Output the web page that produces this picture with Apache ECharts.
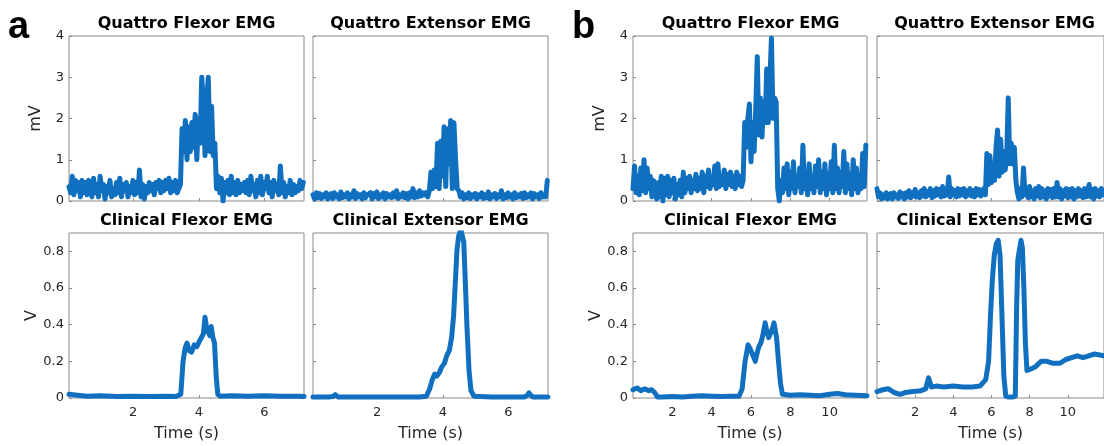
<!DOCTYPE html>
<html>
<head>
<meta charset="utf-8">
<script src="https://cdn.jsdelivr.net/npm/echarts@6/dist/echarts.min.js"></script>
<style>
  html, body { margin: 0; padding: 0; background: #fff; }
  #main { width: 1104px; height: 446px; }
</style>
</head>
<body>
<div id="main"></div>
<script>
// tick labels
var ticksA = [2, 4, 6];
var ticksB = [2, 4, 6, 8, 10];
var ticksMv = [0, 1, 2, 3, 4];
var ticksV = [0, 0.2, 0.4, 0.6, 0.8];

// (a) Quattro EMG, mV, sampled every 0.05 s from 0.04 s
var aQuattroFlexor = [
    0.35,0.2,0.6,0.15,0.5,0.25,0.45,0.1,0.5,0.2,
    0.45,0.15,0.5,0.3,0.1,0.55,0.2,0.4,0.1,0.6,
    0.25,0.4,0.05,0.35,0.2,0.5,0.1,0.3,0.15,0.45,
    0.2,0.55,0.1,0.4,0.25,0.45,0.1,0.35,0.2,0.5,
    0.15,0.45,0.2,0.75,0.1,0.4,0.05,0.35,0.2,0.45,
    0.25,0.4,0.15,0.45,0.3,0.5,0.2,0.45,0.25,0.5,
    0.3,0.55,0.2,0.45,0.25,0.5,0.2,0.3,0.4,1.75,
    1.2,1.95,1.0,1.8,1.2,1.9,1.3,2.1,1.0,2.0,
    1.4,3.0,2.4,1.1,2.4,3.0,1.2,2.3,1.1,1.4,
    0.3,0.6,0.2,0.55,0.0,0.45,0.2,0.5,0.15,0.6,
    0.2,0.45,0.15,0.5,0.2,0.4,0.25,0.45,0.2,0.5,
    0.15,0.6,0.25,0.4,0.1,0.5,0.2,0.6,0.15,0.45,
    0.3,0.6,0.2,0.45,0.1,0.5,0.25,0.4,0.15,0.85,
    0.2,0.45,0.1,0.35,0.2,0.5,0.15,0.4,0.2,0.35,
    0.25,0.5,0.3,0.45
];
var aQuattroExtensor = [
    0.15,0.05,0.2,0.08,0.18,0.06,0.15,0.1,0.2,0.05,
    0.12,0.18,0.06,0.2,0.1,0.15,0.05,0.22,0.08,0.15,
    0.1,0.2,0.05,0.15,0.1,0.25,0.06,0.18,0.1,0.15,
    0.05,0.2,0.08,0.15,0.12,0.2,0.05,0.18,0.1,0.22,
    0.06,0.15,0.1,0.2,0.05,0.18,0.1,0.15,0.08,0.2,
    0.1,0.25,0.06,0.15,0.1,0.2,0.08,0.18,0.05,0.2,
    0.1,0.3,0.08,0.2,0.1,0.25,0.12,0.2,0.15,0.2,
    0.1,0.25,0.7,0.3,0.75,0.35,1.4,0.3,1.45,0.6,
    1.8,0.35,1.75,0.9,1.95,0.3,1.9,1.0,0.3,0.25,
    0.1,0.2,0.05,0.15,0.08,0.2,0.06,0.15,0.1,0.18,
    0.05,0.15,0.1,0.2,0.06,0.15,0.08,0.22,0.05,0.15,
    0.1,0.18,0.06,0.15,0.1,0.25,0.05,0.15,0.08,0.2,
    0.1,0.15,0.05,0.2,0.08,0.15,0.1,0.18,0.06,0.2,
    0.08,0.15,0.1,0.2,0.05,0.18,0.1,0.15,0.06,0.2,
    0.1,0.15,0.1,0.5
];

// (a) Clinical EMG, V
var aClinFlexorT = [0.04,0.3,0.6,1.0,1.5,2.0,2.5,3.0,3.3,3.45,
    3.52,3.58,3.64,3.7,3.78,3.86,3.94,4.02,4.08,4.14,
    4.19,4.24,4.29,4.34,4.38,4.43,4.48,4.53,4.58,4.65,
    5.0,5.5,6.0,6.5,7.0,7.21];
var aClinFlexorV = [0.02,0.015,0.01,0.012,0.008,0.01,0.008,0.01,0.008,0.02,
    0.2,0.27,0.3,0.26,0.25,0.29,0.28,0.31,0.33,0.35,
    0.44,0.38,0.36,0.34,0.39,0.33,0.3,0.12,0.02,0.01,
    0.012,0.01,0.012,0.01,0.01,0.008];
var aClinExtensorT = [0.04,0.5,0.65,0.72,0.8,1.5,2.5,3.3,3.5,3.6,
    3.68,3.75,3.82,3.9,3.97,4.05,4.12,4.2,4.27,4.33,
    4.38,4.43,4.48,4.55,4.6,4.64,4.69,4.74,4.8,4.86,
    4.95,5.5,6.0,6.5,6.58,6.63,6.68,6.75,7.21];
var aClinExtensorV = [0.005,0.005,0.008,0.018,0.006,0.005,0.005,0.006,0.01,0.05,
    0.1,0.13,0.12,0.14,0.17,0.19,0.23,0.26,0.33,0.45,
    0.62,0.8,0.88,0.92,0.93,0.85,0.62,0.38,0.15,0.04,
    0.01,0.006,0.005,0.006,0.015,0.028,0.015,0.006,0.005];

// (b) Quattro EMG, mV, sampled every 0.08 s from 0 s
var bQuattroFlexor = [
    0.3,0.85,0.2,0.6,0.15,0.8,0.25,1.0,0.2,0.8,0.3,0.6,0.1,0.5,0.2,
    0.05,0.45,0.1,0.6,0.0,0.55,0.15,0.6,0.1,0.5,0.2,0.55,0.05,0.4,0.15,0.5,0.1,
    0.7,0.2,0.55,0.3,0.6,0.2,0.5,0.3,0.65,0.25,
    0.55,0.3,0.7,0.2,0.6,0.35,0.75,0.3,0.55,0.4,
    0.85,0.3,0.9,0.35,0.6,0.4,0.75,0.3,0.65,0.4,
    0.7,0.35,0.6,0.3,0.7,0.4,0.6,0.35,
    0.5,1.9,1.3,2.0,2.35,0.95,1.9,1.2,2.2,3.5,
    1.6,2.5,1.55,2.4,1.9,3.2,1.9,2.9,3.95,2.0,
    2.5,2.4,0.3,0.0,0.5,
    0.2,0.8,0.3,0.9,0.15,0.7,0.3,0.95,0.2,0.6,
    0.35,0.8,0.2,1.35,0.3,0.7,0.15,0.9,0.3,0.6,
    0.2,0.85,0.35,1.0,0.2,0.7,0.3,0.9,0.15,0.65,
    0.3,0.95,0.2,1.35,0.3,0.8,0.2,0.7,0.35,1.2,
    0.2,0.9,0.3,0.65,0.15,1.0,0.3,0.8,0.2,0.6,
    0.3,1.15,0.35,1.35
];
var bQuattroExtensor = [
    0.3,0.1,0.2,0.05,0.15,0.08,0.2,0.05,0.12,0.18,
    0.05,0.2,0.1,0.15,0.06,0.22,0.1,0.18,0.05,0.2,
    0.1,0.25,0.08,0.2,0.12,0.28,0.1,0.2,0.08,0.25,
    0.12,0.3,0.1,0.22,0.15,0.3,0.08,0.25,0.12,0.3,
    0.15,0.28,0.1,0.35,0.12,0.25,0.15,0.58,0.1,0.3,
    0.15,0.25,0.1,0.3,0.12,0.28,0.15,0.3,0.1,0.25,
    0.15,0.3,0.12,0.25,0.1,0.3,0.15,0.28,0.12,0.2,
    0.3,0.15,1.15,0.4,1.1,0.45,0.9,0.5,1.3,1.72,
    0.6,1.5,0.7,1.2,0.75,1.1,2.5,0.9,1.4,0.9,
    1.3,0.5,0.2,0.05,0.3,0.1,0.8,0.15,
    0.3,0.08,0.35,0.1,0.25,0.05,0.3,0.12,0.35,0.08,
    0.3,0.1,0.25,0.05,0.3,0.12,0.28,0.08,0.3,0.1,
    0.45,0.1,0.3,0.05,0.25,0.12,0.3,0.08,0.28,0.1,
    0.3,0.05,0.25,0.1,0.3,0.12,0.25,0.08,0.3,0.1,
    0.25,0.4,0.1,0.28,0.05,0.3,0.12,0.25,0.1,0.3,
    0.15
];

// (b) Clinical EMG, V
var bClinFlexorT = [0,0.2,0.4,0.6,0.8,0.95,1.1,1.25,1.5,2,
    2.5,3,3.5,4,4.5,5,5.4,5.55,5.7,5.85,
    5.95,6.05,6.15,6.22,6.3,6.4,6.5,6.6,6.72,6.8,
    6.9,7.0,7.1,7.17,7.3,7.4,7.5,7.6,7.7,8,
    8.5,9,9.5,10,10.4,10.8,11.3,11.9];
var bClinFlexorV = [0.045,0.055,0.04,0.05,0.04,0.045,0.03,0.005,0.005,0.008,
    0.006,0.01,0.012,0.01,0.008,0.01,0.01,0.05,0.2,0.29,
    0.27,0.26,0.22,0.2,0.24,0.28,0.3,0.34,0.41,0.37,
    0.33,0.34,0.38,0.41,0.33,0.2,0.08,0.02,0.01,0.015,
    0.018,0.015,0.012,0.02,0.025,0.018,0.015,0.012];
var bClinExtensorT = [0,0.3,0.6,0.9,1.2,1.5,1.9,2.3,2.55,2.7,
    2.85,3.1,3.5,4,4.5,5,5.4,5.7,5.85,5.95,
    6.05,6.15,6.25,6.35,6.45,6.55,6.65,6.75,6.9,7.1,
    7.25,7.32,7.38,7.45,7.55,7.62,7.7,7.78,7.86,7.95,
    8.1,8.3,8.6,8.9,9.2,9.6,9.9,10.2,10.5,10.8,
    11.1,11.4,11.9];
var bClinExtensorV = [0.035,0.045,0.05,0.03,0.02,0.03,0.035,0.04,0.05,0.11,
    0.06,0.065,0.06,0.065,0.06,0.06,0.065,0.1,0.2,0.45,
    0.65,0.78,0.84,0.86,0.78,0.45,0.12,0.01,0.005,0.005,
    0.01,0.5,0.75,0.8,0.86,0.82,0.6,0.3,0.15,0.14,
    0.16,0.17,0.2,0.2,0.19,0.19,0.21,0.22,0.23,0.22,
    0.23,0.24,0.23];

function sampled(t0, dt, vals) {
    return vals.map(function(v, i) { return [+(t0 + i * dt).toFixed(3), v]; });
}
function zip(ts, vs) {
    return ts.map(function(t, i) { return [t, vs[i]]; });
}

var font = 'DejaVu Sans';
var textColor = '#262626';
var boxColor = '#8a8a8a';
var lineColor = '#1070bf';

var panels = [
    { left: 69,  top: 36,  width: 235, xMin: 0.04, xMax: 7.21, xTicks: ticksA, yMax: 4,   yTicks: ticksMv, showY: true,  showX: false, yName: 'mV', title: 'Quattro Flexor EMG',     data: sampled(0.04, 0.05, aQuattroFlexor) },
    { left: 313, top: 36,  width: 235, xMin: 0.04, xMax: 7.21, xTicks: ticksA, yMax: 4,   yTicks: ticksMv, showY: false, showX: false, yName: '',   title: 'Quattro Extensor EMG',   data: sampled(0.04, 0.05, aQuattroExtensor) },
    { left: 69,  top: 233, width: 235, xMin: 0.04, xMax: 7.21, xTicks: ticksA, yMax: 0.9, yTicks: ticksV,  showY: true,  showX: true,  yName: 'V',  title: 'Clinical Flexor EMG',    data: zip(aClinFlexorT, aClinFlexorV) },
    { left: 313, top: 233, width: 235, xMin: 0.04, xMax: 7.21, xTicks: ticksA, yMax: 0.9, yTicks: ticksV,  showY: false, showX: true,  yName: '',   title: 'Clinical Extensor EMG',  data: zip(aClinExtensorT, aClinExtensorV) },
    { left: 633, top: 36,  width: 234, xMin: 0,    xMax: 11.9, xTicks: ticksB, yMax: 4,   yTicks: ticksMv, showY: true,  showX: false, yName: 'mV', title: 'Quattro Flexor EMG',     data: sampled(0, 0.08, bQuattroFlexor) },
    { left: 877, top: 36,  width: 234, xMin: 0,    xMax: 11.9, xTicks: ticksB, yMax: 4,   yTicks: ticksMv, showY: false, showX: false, yName: '',   title: 'Quattro Extensor EMG',   data: sampled(0, 0.08, bQuattroExtensor) },
    { left: 633, top: 233, width: 234, xMin: 0,    xMax: 11.9, xTicks: ticksB, yMax: 0.9, yTicks: ticksV,  showY: true,  showX: true,  yName: 'V',  title: 'Clinical Flexor EMG',    data: zip(bClinFlexorT, bClinFlexorV) },
    { left: 877, top: 233, width: 234, xMin: 0,    xMax: 11.9, xTicks: ticksB, yMax: 0.9, yTicks: ticksV,  showY: false, showX: true,  yName: '',   title: 'Clinical Extensor EMG',  data: zip(bClinExtensorT, bClinExtensorV) }
];

var grids = [], xAxes = [], yAxes = [], series = [], graphics = [];
var H = 165;

panels.forEach(function(p, i) {
    grids.push({
        left: p.left, top: p.top, width: p.width, height: H,
        show: true, borderColor: boxColor, borderWidth: 1, backgroundColor: 'transparent'
    });
    xAxes.push({
        gridIndex: i, type: 'value', min: p.xMin, max: p.xMax,
        splitLine: { show: false },
        axisLine: { show: false },
        axisTick: { show: true, inside: true, length: 3, lineStyle: { color: boxColor }, customValues: p.xTicks },
        axisLabel: { show: p.showX, customValues: p.xTicks, margin: 8, color: textColor, fontFamily: font, fontSize: 13 },
        name: p.showX ? 'Time (s)' : '', nameLocation: 'middle', nameGap: 28,
        nameTextStyle: { color: textColor, fontFamily: font, fontSize: 16 }
    });
    yAxes.push({
        gridIndex: i, type: 'value', min: 0, max: p.yMax,
        splitLine: { show: false },
        axisLine: { show: false },
        axisTick: { show: true, inside: true, length: 3, lineStyle: { color: boxColor }, customValues: p.yTicks },
        axisLabel: { show: p.showY, customValues: p.yTicks, margin: 5, color: textColor, fontFamily: font, fontSize: 13 },
        name: p.yName, nameLocation: 'middle', nameGap: p.yName == 'V' ? 28 : 25, nameRotate: 90,
        nameTextStyle: { color: textColor, fontFamily: font, fontSize: 16 }
    });
    series.push({
        type: 'line', xAxisIndex: i, yAxisIndex: i, data: p.data,
        showSymbol: false, clip: true, animation: false,
        lineStyle: { color: lineColor, width: 5, join: 'round', cap: 'round' }
    });
    graphics.push({
        type: 'text', x: p.left + 117.5, y: p.top < 100 ? 24 : 221,
        style: { text: p.title, font: 'bold 16px "DejaVu Sans"', fill: '#000', textAlign: 'center', textVerticalAlign: 'middle' }
    });
});

// panel letters
graphics.push({ type: 'text', x: 8, y: 28, style: { text: 'a', font: 'bold 38px "Liberation Sans"', fill: '#000', textAlign: 'left', textVerticalAlign: 'middle' } });
graphics.push({ type: 'text', x: 572, y: 28, style: { text: 'b', font: 'bold 38px "Liberation Sans"', fill: '#000', textAlign: 'left', textVerticalAlign: 'middle' } });

var myChart = echarts.init(document.getElementById('main'));
var option = {
    animation: false,
    backgroundColor: '#fff',
    grid: grids,
    xAxis: xAxes,
    yAxis: yAxes,
    series: series,
    graphic: graphics
};
myChart.setOption(option);
</script>
</body>
</html>
